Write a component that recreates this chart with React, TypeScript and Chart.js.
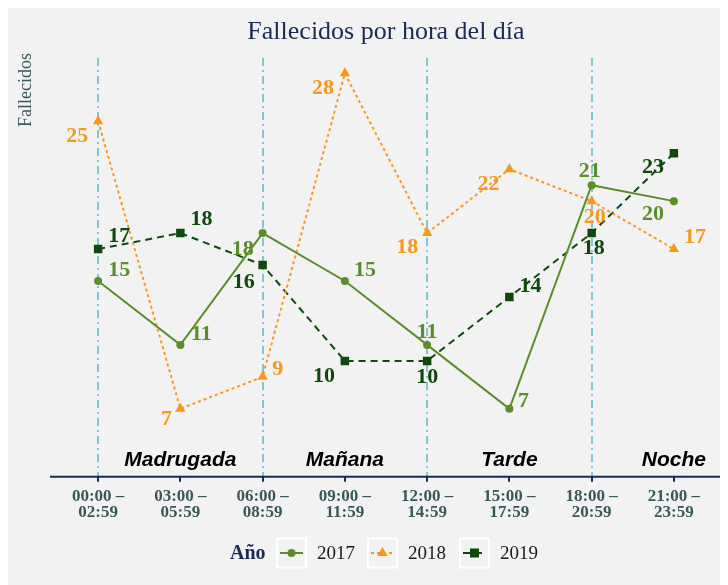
import React, { useEffect, useRef } from "react";
import { Chart, registerables } from "chart.js";

Chart.register(...registerables);

// ---- data ----
const hourRanges: string[][] = [
  ["00:00 –", "02:59"],
  ["03:00 –", "05:59"],
  ["06:00 –", "08:59"],
  ["09:00 –", "11:59"],
  ["12:00 –", "14:59"],
  ["15:00 –", "17:59"],
  ["18:00 –", "20:59"],
  ["21:00 –", "23:59"],
];
const periods = ["Madrugada", "Mañana", "Tarde", "Noche"];
const years = ["2017", "2018", "2019"];
const deaths2017 = [15, 11, 18, 15, 11, 7, 21, 20];
const deaths2018 = [25, 7, 9, 28, 18, 22, 20, 17];
const deaths2019 = [17, 18, 16, 10, 10, 14, 18, 23];

// label offsets (dx, dy) in px for each point label
const labelOffsets: number[][][] = [
  [[21, -12], [21, -12], [-20, 15], [20, -12], [0, -14], [14, -8], [-2, -15], [-21, 12]],
  [[-21, 14], [-14, 10], [15, -9], [-22, 14], [-20, 13], [-21, 14], [3, 15], [21, -13]],
  [[21, -14], [21, -15], [-19, 16], [-21, 14], [0, 15], [21, -12], [2, 14], [-21, 13]],
];

const colors = ["#5b8e2b", "#f8971c", "#0e4a0e"];
const dashes = [[], [3, 3], [7, 5]];
const pointStyles = ["circle", "triangle", "rect"];
const pointRadii = [4, 6, 6];

const NAVY = "#1b2b55";
const SLATE = "#3b5858";
const SERIF = '"Liberation Serif", "Times New Roman", serif';

const decorPlugin = {
  id: "decor",
  beforeDraw(chart: any) {
    const { ctx, width, height } = chart;
    ctx.save();
    ctx.fillStyle = "#f2f2f2";
    ctx.fillRect(0, 0, width, height);
    ctx.restore();
  },
  beforeDatasetsDraw(chart: any) {
    const { ctx, chartArea } = chart;
    const xs = chart.scales.x;
    ctx.save();
    ctx.strokeStyle = "#7ec8d1";
    ctx.lineWidth = 2;
    ctx.setLineDash([8, 4, 2, 4]);
    periods.forEach((_, p) => {
      const x = Math.round(xs.getPixelForValue(p * 2));
      ctx.beginPath();
      ctx.moveTo(x, chartArea.top);
      ctx.lineTo(x, chartArea.bottom);
      ctx.stroke();
    });
    ctx.setLineDash([]);
    ctx.fillStyle = "#000";
    ctx.font = 'italic bold 21px "Liberation Sans", Arial, sans-serif';
    ctx.textAlign = "center";
    ctx.textBaseline = "alphabetic";
    periods.forEach((name, p) => {
      const x = xs.getPixelForValue(p * 2 + 1);
      ctx.fillText(name, x, chartArea.bottom - 11);
    });
    ctx.restore();
  },
  afterDatasetsDraw(chart: any) {
    const { ctx } = chart;
    ctx.save();
    ctx.font = `bold 22px ${SERIF}`;
    ctx.textAlign = "center";
    ctx.textBaseline = "middle";
    chart.data.datasets.forEach((ds: any, di: number) => {
      const meta = chart.getDatasetMeta(di);
      ctx.fillStyle = colors[di];
      meta.data.forEach((pt: any, i: number) => {
        const [dx, dy] = labelOffsets[di][i];
        ctx.fillText(String(ds.data[i]), pt.x + dx, pt.y + dy + 1);
      });
    });
    ctx.restore();
  },
  afterDraw(chart: any) {
    const { ctx, chartArea } = chart;
    ctx.save();
    ctx.strokeStyle = NAVY;
    ctx.lineWidth = 2;
    ctx.beginPath();
    ctx.moveTo(chartArea.left - 7, chartArea.bottom);
    ctx.lineTo(chartArea.right + 7, chartArea.bottom);
    ctx.stroke();
    ctx.fillStyle = NAVY;
    ctx.font = `26px ${SERIF}`;
    ctx.textAlign = "center";
    ctx.textBaseline = "middle";
    ctx.fillText("Fallecidos por hora del día", (chartArea.left + chartArea.right) / 2, 24);
    ctx.save();
    ctx.translate(18, 45);
    ctx.rotate(-Math.PI / 2);
    ctx.fillStyle = SLATE;
    ctx.font = `18px ${SERIF}`;
    ctx.textAlign = "right";
    ctx.textBaseline = "middle";
    ctx.fillText("Fallecidos", 0, 0);
    ctx.restore();
    const ly = 545;
    ctx.fillStyle = NAVY;
    ctx.font = `bold 20px ${SERIF}`;
    ctx.textAlign = "left";
    ctx.textBaseline = "middle";
    ctx.fillText("Año", 222, ly + 1);
    const boxX = [269, 360, 452];
    years.forEach((yr, di) => {
      const bx = boxX[di];
      ctx.strokeStyle = "#ffffff";
      ctx.lineWidth = 2;
      ctx.setLineDash([]);
      ctx.strokeRect(bx, ly - 14.5, 29, 29);
      ctx.strokeStyle = colors[di];
      ctx.lineWidth = 2;
      ctx.setLineDash(dashes[di]);
      ctx.beginPath();
      ctx.moveTo(bx + 3, ly);
      ctx.lineTo(bx + 26, ly);
      ctx.stroke();
      ctx.setLineDash([]);
      ctx.fillStyle = colors[di];
      const cx = bx + 14.5;
      ctx.beginPath();
      if (di === 0) {
        ctx.arc(cx, ly, 4, 0, Math.PI * 2);
      } else if (di === 1) {
        ctx.moveTo(cx, ly - 6);
        ctx.lineTo(cx + 5.2, ly + 3);
        ctx.lineTo(cx - 5.2, ly + 3);
        ctx.closePath();
      } else {
        ctx.rect(cx - 4.5, ly - 4.5, 9, 9);
      }
      ctx.fill();
      ctx.fillStyle = "#1a1a1a";
      ctx.font = `19px ${SERIF}`;
      ctx.fillText(yr, bx + 40, ly + 1);
    });
    ctx.restore();
  },
};

export default function App() {
  const ref = useRef<HTMLCanvasElement | null>(null);
  useEffect(() => {
    document.body.style.overflow = "hidden";
    const canvas = ref.current!;
    const series = [deaths2017, deaths2018, deaths2019];
    const chart = new Chart(canvas, {
      type: "line",
      data: {
        labels: hourRanges,
        datasets: years.map((yr, di) => ({
          label: yr,
          data: series[di],
          borderColor: colors[di],
          backgroundColor: colors[di],
          borderWidth: 2,
          borderDash: dashes[di],
          pointStyle: pointStyles[di] as any,
          pointRadius: pointRadii[di],
          pointBorderWidth: 0,
          pointBackgroundColor: colors[di],
          tension: 0,
          fill: false,
        })),
      },
      options: {
        animation: false,
        responsive: false,
        layout: { padding: { top: 50, left: 49, right: 13, bottom: 57 } },
        plugins: {
          legend: { display: false },
          title: { display: false },
          tooltip: { enabled: false },
        },
        scales: {
          x: {
            offset: true,
            grid: {
              display: true,
              drawOnChartArea: false,
              drawTicks: true,
              tickLength: 5,
              color: NAVY,
              lineWidth: 2,
              offset: false,
            },
            border: { display: false },
            ticks: {
              color: SLATE,
              font: { family: SERIF, size: 17, weight: "bold", lineHeight: 0.95 },
              padding: 7,
              maxRotation: 0,
              autoSkip: false,
            },
          },
          y: {
            display: false,
            min: 2.75,
            max: 28.96,
          },
        },
      },
      plugins: [decorPlugin],
    });
    return () => chart.destroy();
  }, []);
  return (
    <div style={{ width: 720, height: 577 }}>
      <canvas ref={ref} width={720} height={577} style={{ display: "block" }} />
    </div>
  );
}
